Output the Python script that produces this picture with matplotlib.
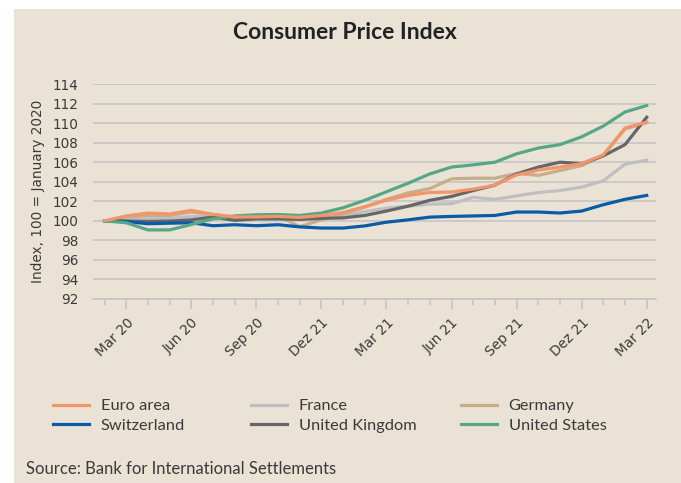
import numpy as np
import matplotlib
matplotlib.use('Agg')
import matplotlib.pyplot as plt

# monthly index values, Feb 2020 .. Mar 2022 (100 = January 2020)
months = ['Feb 20', 'Mar 20', 'Apr 20', 'May 20', 'Jun 20', 'Jul 20', 'Aug 20', 'Sep 20',
          'Oct 20', 'Nov 20', 'Dec 20', 'Jan 21', 'Feb 21', 'Mar 21', 'Apr 21', 'May 21',
          'Jun 21', 'Jul 21', 'Aug 21', 'Sep 21', 'Oct 21', 'Nov 21', 'Dec 21', 'Jan 22',
          'Feb 22', 'Mar 22']
tick_labels = ['Mar 20', 'Jun 20', 'Sep 20', 'Dez 21', 'Mar 21', 'Jun 21', 'Sep 21', 'Dez 21', 'Mar 22']

euro_area = [100, 100.5, 100.8, 100.7, 101.07, 100.66, 100.4, 100.4, 100.45, 100.35, 100.55, 100.85,
             101.45, 102.1, 102.6, 102.9, 102.95, 103.25, 103.65, 104.7, 105.2, 105.5, 105.85,
             106.75, 109.5, 110.1]
france = [100, 100.1, 100.2, 100.25, 100.45, 100.5, 100.3, 100.2, 100.3, 100.2, 100.4, 100.45,
          100.95, 101.3, 101.5, 101.7, 101.75, 102.4, 102.2, 102.55, 102.9, 103.1, 103.45,
          104.1, 105.8, 106.2]
germany = [100, 100.38, 100.55, 100.55, 100.9, 100.65, 100.4, 100.4, 100.5, 99.4, 100.1, 100.7,
           101.4, 102.2, 102.85, 103.3, 104.3, 104.36, 104.36, 104.85, 104.65, 105.15, 105.65,
           106.7, 109.4, 110.05]
switzerland = [100, 99.93, 99.7, 99.76, 99.8, 99.5, 99.6, 99.5, 99.6, 99.38, 99.26, 99.26,
               99.48, 99.86, 100.1, 100.38, 100.45, 100.5, 100.55, 100.9, 100.9, 100.8, 101.0,
               101.65, 102.2, 102.6]
united_kingdom = [100, 99.97, 99.93, 99.97, 100.1, 100.38, 100.05, 100.2, 100.2, 100.15, 100.25, 100.3,
                  100.55, 101.0, 101.5, 102.1, 102.5, 103.1, 103.65, 104.8, 105.5, 106.0, 105.85,
                  106.65, 107.8, 110.6]
united_states = [100, 99.8, 99.07, 99.07, 99.62, 100.2, 100.5, 100.62, 100.65, 100.55, 100.8, 101.34,
                 102.1, 102.97, 103.85, 104.8, 105.5, 105.73, 106.0, 106.86, 107.45, 107.8, 108.6,
                 109.7, 111.14, 111.8]

bg = '#EAE3D5'
grid_col = '#C4C2C3'
txt = '#3a3a3a'
narrow = ['Lato', 'DejaVu Sans']

fig = plt.figure(figsize=(6.81, 4.83), dpi=100, facecolor='white')
# beige panel with white margin on the left/top
fig.patches.append(plt.Rectangle((14 / 681, 0), 1, 1 - 9 / 483, transform=fig.transFigure,
                                 facecolor=bg, edgecolor='none', zorder=-10))

ax = fig.add_axes([0.136, 0.381, 0.828, 0.445])
ax.set_facecolor(bg)

x = np.arange(len(months))
series = [
    ('France', france, '#BFBFC3'),
    ('Germany', germany, '#C8AD8B'),
    ('United Kingdom', united_kingdom, '#666568'),
    ('Switzerland', switzerland, '#0A5BA5'),
    ('United States', united_states, '#55A883'),
    ('Euro area', euro_area, '#F3956A'),
]
lines = {}
for name, vals, col in series:
    ln, = ax.plot(x, vals, color=col, linewidth=2.3, solid_joinstyle='round', zorder=3)
    lines[name] = ln

ax.set_ylim(92, 114)
ax.set_yticks(np.arange(92, 115, 2))
ax.set_xlim(-0.55, 25.45)
ax.grid(axis='y', color=grid_col, linewidth=1.1)
ax.set_axisbelow(True)
for s in ['top', 'right', 'left']:
    ax.spines[s].set_visible(False)
ax.spines['bottom'].set_color(grid_col)
ax.spines['bottom'].set_linewidth(1.1)

# labelled ticks every quarter, small ticks every month
ax.set_xticks(x[1::3])
ax.set_xticklabels(tick_labels, rotation=45, ha='right', rotation_mode='anchor')
ax.set_xticks(x, minor=True)
ax.tick_params(axis='x', which='major', length=7, color=grid_col, width=1.1,
               labelsize=9.8, labelcolor=txt, pad=5)
ax.tick_params(axis='x', which='minor', length=4, color=grid_col, width=1.1)
ax.tick_params(axis='y', length=0, labelsize=9.8, labelcolor=txt, pad=10)
ax.set_ylabel('Index, 100 = January 2020', fontsize=9.8, color=txt, labelpad=6)

fig.text(0.507, 0.932, 'Consumer Price Index', ha='center', va='center',
         fontsize=16.5, fontweight='bold', color='#222222', family=narrow)

# three legend columns, placed where the reference puts them
legend_cols = [(['Euro area', 'Switzerland'], 53),
               (['France', 'United Kingdom'], 251),
               (['Germany', 'United States'], 461)]
for names, px in legend_cols:
    leg = fig.legend([lines[n] for n in names], names, loc='upper left',
                     bbox_to_anchor=(px / 681, 1 - 399 / 483), frameon=False,
                     handlelength=2.2, handletextpad=0.7, labelspacing=0.3,
                     borderaxespad=0, borderpad=0,
                     prop={'family': narrow, 'size': 11.8})
    for t in leg.get_texts():
        t.set_color(txt)

fig.text(26 / 681, 1 - 469 / 483, 'Source: Bank for International Settlements', ha='left',
         va='center', fontsize=12, color=txt, family=narrow)

fig.savefig('out.png', dpi=100, facecolor=fig.get_facecolor())
